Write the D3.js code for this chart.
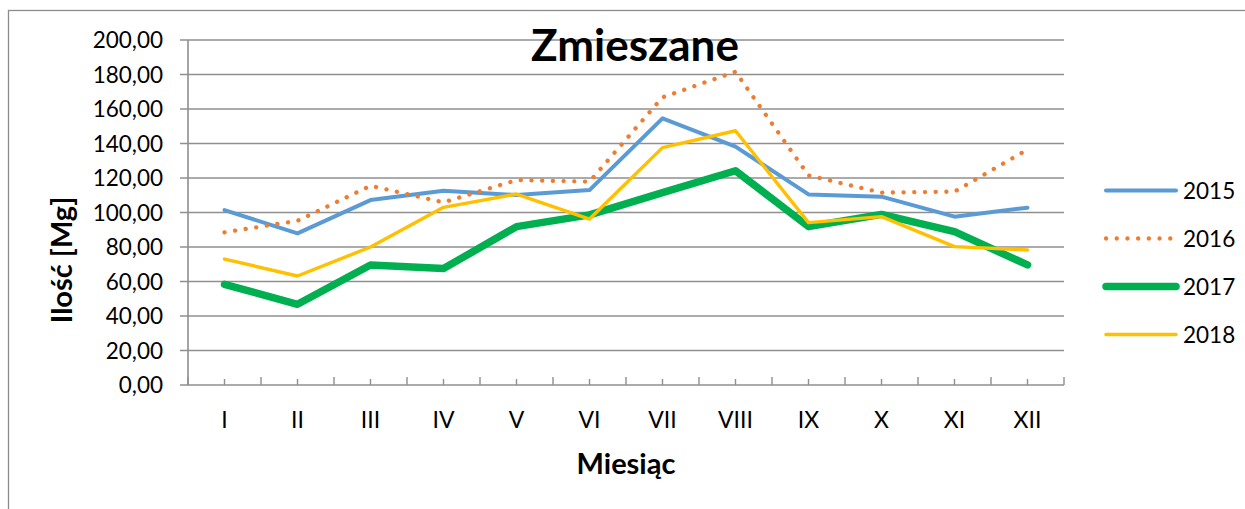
<!DOCTYPE html>
<html>
<head>
<meta charset="utf-8">
<script src="https://cdn.jsdelivr.net/npm/d3@7"></script>
<style>
  body { margin: 0; background: #fff; }
  svg { display: block; font-family: Lato, "Noto Sans", sans-serif; }
</style>
</head>
<body>
<div id="chart"></div>
<script>
// data
const months = ["I", "II", "III", "IV", "V", "VI", "VII", "VIII", "IX", "X", "XI", "XII"];
const v2015 = [101.4, 87.9, 107.2, 112.6, 110.1, 113.0, 154.6, 138.2, 110.5, 109.2, 97.6, 102.8];
const v2016 = [88.5, 95.2, 115.5, 105.9, 118.8, 117.9, 166.8, 181.6, 121.5, 111.5, 112.1, 136.5];
const v2017 = [58.4, 46.8, 69.6, 67.5, 91.8, 98.6, 111.5, 124.2, 91.8, 98.9, 88.9, 69.6];
const v2018 = [73.0, 63.2, 80.0, 103.0, 110.7, 96.2, 137.6, 147.4, 94.1, 97.6, 80.2, 78.3];
const yTicks = [0, 20, 40, 60, 80, 100, 120, 140, 160, 180, 200];

const series = [
  { name: "2015", values: v2015, color: "#5B9BD5", width: 4, dash: null },
  { name: "2016", values: v2016, color: "#ED7D31", width: 4.3, dash: "0.1 10.6" },
  { name: "2017", values: v2017, color: "#00B050", width: 7.5, dash: null },
  { name: "2018", values: v2018, color: "#FFC000", width: 3.4, dash: null }
];

const width = 1245;
const height = 509;

const svg = d3.select("#chart")
    .append("svg")
    .attr("width", width)
    .attr("height", height);

// outer chart border (cut off at right and bottom like the screenshot)
svg.append("rect")
    .attr("x", 8.5)
    .attr("y", 10.5)
    .attr("width", 1400)
    .attr("height", 700)
    .attr("fill", "none")
    .attr("stroke", "#8c8c8c")
    .attr("stroke-width", 1.3);

const plotLeft = 188, plotRight = 1064, plotTop = 40, plotBottom = 385;

const x = d3.scaleBand().domain(months).range([plotLeft, plotRight]);
const y = d3.scaleLinear().domain([0, 200]).range([plotBottom, plotTop]);

const locale = d3.formatLocale({ decimal: ",", thousands: " ", grouping: [3], currency: ["", " zł"] });
const fmt = locale.format(".2f");

// gridlines
svg.append("g")
    .selectAll("line")
    .data(yTicks)
    .enter()
    .append("line")
    .attr("x1", plotLeft - 8)
    .attr("x2", plotRight)
    .attr("y1", d => y(d))
    .attr("y2", d => y(d))
    .attr("stroke", "#8f8f8f")
    .attr("stroke-width", 1.6);

// y axis line
svg.append("line")
    .attr("x1", plotLeft)
    .attr("x2", plotLeft)
    .attr("y1", plotTop)
    .attr("y2", plotBottom)
    .attr("stroke", "#8f8f8f")
    .attr("stroke-width", 1.6);

// y tick labels
svg.append("g")
    .selectAll("text")
    .data(yTicks)
    .enter()
    .append("text")
    .attr("x", 163)
    .attr("y", d => y(d) + 8)
    .attr("text-anchor", "end")
    .attr("font-size", 22.5)
    .attr("fill", "#000")
    .text(d => fmt(d));

// x ticks: tall at category boundaries, short at category centres
const boundaries = months.map(m => x(m)).concat([plotRight]);
svg.append("g")
    .selectAll("line")
    .data(boundaries)
    .enter()
    .append("line")
    .attr("x1", d => d)
    .attr("x2", d => d)
    .attr("y1", plotBottom - 8)
    .attr("y2", plotBottom)
    .attr("stroke", "#8f8f8f")
    .attr("stroke-width", 1.4);

svg.append("g")
    .selectAll("line")
    .data(months)
    .enter()
    .append("line")
    .attr("x1", d => x(d) + x.bandwidth() / 2)
    .attr("x2", d => x(d) + x.bandwidth() / 2)
    .attr("y1", plotBottom - 6)
    .attr("y2", plotBottom)
    .attr("stroke", "#8f8f8f")
    .attr("stroke-width", 1.4);

// x tick labels
svg.append("g")
    .selectAll("text")
    .data(months)
    .enter()
    .append("text")
    .attr("x", d => x(d) + x.bandwidth() / 2)
    .attr("y", 428)
    .attr("text-anchor", "middle")
    .attr("font-size", 23)
    .attr("fill", "#000")
    .text(d => d);

// series lines
const line = d3.line()
    .x((d, i) => x(months[i]) + x.bandwidth() / 2)
    .y(d => y(d));

series.forEach(s => {
    svg.append("path")
        .datum(s.values)
        .attr("d", line)
        .attr("fill", "none")
        .attr("stroke", s.color)
        .attr("stroke-width", s.width)
        .attr("stroke-linejoin", "round")
        .attr("stroke-linecap", "round")
        .attr("stroke-dasharray", s.dash);
});

// title
svg.append("text")
    .attr("x", 635)
    .attr("y", 61)
    .attr("text-anchor", "middle")
    .attr("font-size", 44)
    .attr("font-weight", "bold")
    .attr("fill", "#000")
    .text("Zmieszane");

// axis titles
svg.append("text")
    .attr("x", 626)
    .attr("y", 474)
    .attr("text-anchor", "middle")
    .attr("font-size", 29)
    .attr("font-weight", "bold")
    .attr("fill", "#000")
    .text("Miesiąc");

svg.append("text")
    .attr("transform", "translate(72,260) rotate(-90)")
    .attr("text-anchor", "middle")
    .attr("font-size", 29)
    .attr("font-weight", "bold")
    .attr("fill", "#000")
    .text("Ilość [Mg]");

// legend
const legendY = d3.scalePoint().domain(series.map(s => s.name)).range([190.5, 334.5]);
const legend = svg.append("g");
series.forEach(s => {
    legend.append("line")
        .attr("x1", 1106)
        .attr("x2", 1176)
        .attr("y1", legendY(s.name))
        .attr("y2", legendY(s.name))
        .attr("stroke", s.color)
        .attr("stroke-width", s.width)
        .attr("stroke-linecap", "round")
        .attr("stroke-dasharray", s.dash);
    legend.append("text")
        .attr("x", 1183)
        .attr("y", legendY(s.name) + 8)
        .attr("font-size", 22.5)
        .attr("fill", "#000")
        .text(s.name);
});
</script>
</body>
</html>
